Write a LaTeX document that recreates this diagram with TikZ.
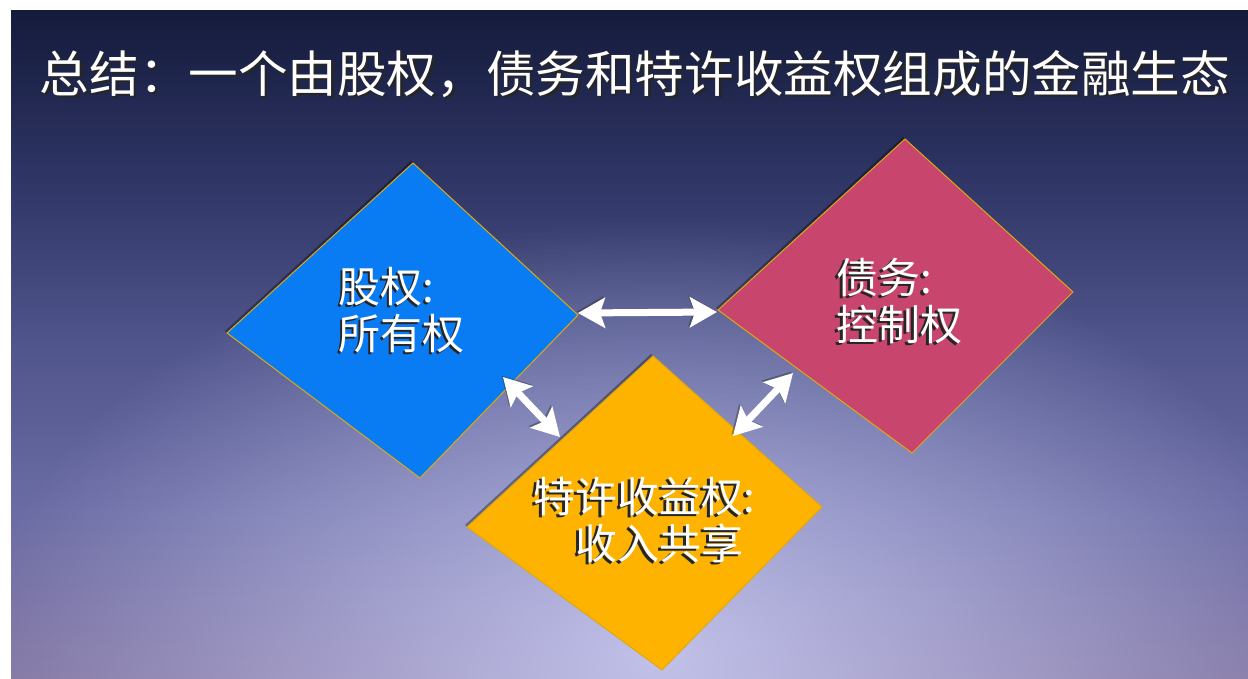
\documentclass[tikz,border=0pt]{standalone}
\usepackage{fontspec}
\newfontfamily\cjk{Noto Sans CJK SC}
\usetikzlibrary{arrows.meta,fadings}
\definecolor{bgtop}{HTML}{141B3B}
\definecolor{bgupper}{HTML}{2F3565}
\definecolor{bgmid}{HTML}{50558C}
\definecolor{bglow}{HTML}{6B6CA4}
\definecolor{bgbot}{HTML}{8478A4}
\definecolor{glowcol}{HTML}{CCCEF6}
\definecolor{eqblue}{HTML}{0A7CF3}
\definecolor{debtred}{HTML}{C8466E}
\definecolor{royyellow}{HTML}{FDB300}
\definecolor{edgegold}{HTML}{E0A810}
\pgfdeclareverticalshading{slidebg}{100bp}{color(0bp)=(bgbot); color(25bp)=(bgbot); color(37.5bp)=(bglow); color(50bp)=(bgmid); color(62.5bp)=(bgupper); color(75bp)=(bgtop); color(100bp)=(bgtop)}
\tikzfading[name=glowfade, inner color=transparent!15, outer color=transparent!100]
\newcommand\shtxt[3]{\makebox[0pt][l]{\hspace*{#1}\raisebox{#2}{\color{black!85}#3}}#3}
\tikzset{
  titletext/.style={text=white, font=\cjk\fontsize{49.6pt}{56pt}\selectfont, inner sep=0pt},
  lbl/.style={text=white, font=\cjk\fontsize{42pt}{47pt}\selectfont, inner sep=0pt, align=left, anchor=west},
  gem/.style={draw=edgegold, line width=1pt, line join=miter,
    preaction={fill=black, opacity=0.35, transform canvas={shift={(-2pt,2pt)}}}},
  dblarrow/.style={draw=white, line width=7pt,
    {Stealth[length=27pt,width=30pt,inset=5pt]}-{Stealth[length=27pt,width=30pt,inset=5pt]},
    preaction={draw=black!80, opacity=0.45, transform canvas={shift={(-1.5pt,1.5pt)}}}}
}
\begin{document}
\begin{tikzpicture}[x=1pt,y=-1pt]
\useasboundingbox (0,0) rectangle (1248,679);
\fill[white] (0,0) rectangle (1248,679);
\shade[shading=slidebg] (11,11) rectangle (1248,679);
\begin{scope}
  \clip (11,11) rectangle (1248,679);
  \fill[glowcol, path fading=glowfade, fit fading=true] (660,660) ellipse [x radius=680, y radius=440];
\end{scope}

% title
\node[titletext] (title) at (635,75) {\shtxt{2.5pt}{-2.5pt}{总结：一个由股权，债务和特许收益权组成的金融生态}};

% diamond corners
\coordinate (bT) at (413,163); \coordinate (bR) at (578,315);
\coordinate (bB) at (420,478); \coordinate (bL) at (227,333);
\coordinate (rT) at (905,139); \coordinate (rR) at (1073,292);
\coordinate (rB) at (912,453); \coordinate (rL) at (718,310);
\coordinate (yT) at (653,356); \coordinate (yR) at (822,507);
\coordinate (yB) at (662,670); \coordinate (yL) at (467,527);

\draw[gem, fill=eqblue] (bT) -- (bR) -- (bB) -- (bL) -- cycle;
\draw[gem, fill=debtred] (rT) -- (rR) -- (rB) -- (rL) -- cycle;
\draw[gem, fill=royyellow] (yT) -- (yR) -- (yB) -- (yL) -- cycle;

% labels
\node[lbl] (equity) at (338,311) {\shtxt{-1.5pt}{-1.5pt}{股权:}\\\shtxt{-1.5pt}{-1.5pt}{所有权}};
\node[lbl] (debt) at (836,302) {\shtxt{-2.5pt}{-2.5pt}{债务:}\\\shtxt{-2.5pt}{-2.5pt}{控制权}};
\node[lbl] (royalty) at (533,521) {\shtxt{-2.5pt}{-2.5pt}{特许收益权:}\\\hspace*{1em}\shtxt{-2.5pt}{-2.5pt}{收入共享}};

% arrow ends
\coordinate (a1s) at (578,313); \coordinate (a1e) at (717,312);
\coordinate (a2s) at (503,377); \coordinate (a2e) at (560,437);
\coordinate (a3s) at (793,373); \coordinate (a3e) at (733,436);

\draw[dblarrow] (a1s) -- (a1e);
\draw[dblarrow] (a2s) -- (a2e);
\draw[dblarrow] (a3s) -- (a3e);
\end{tikzpicture}
\end{document}
